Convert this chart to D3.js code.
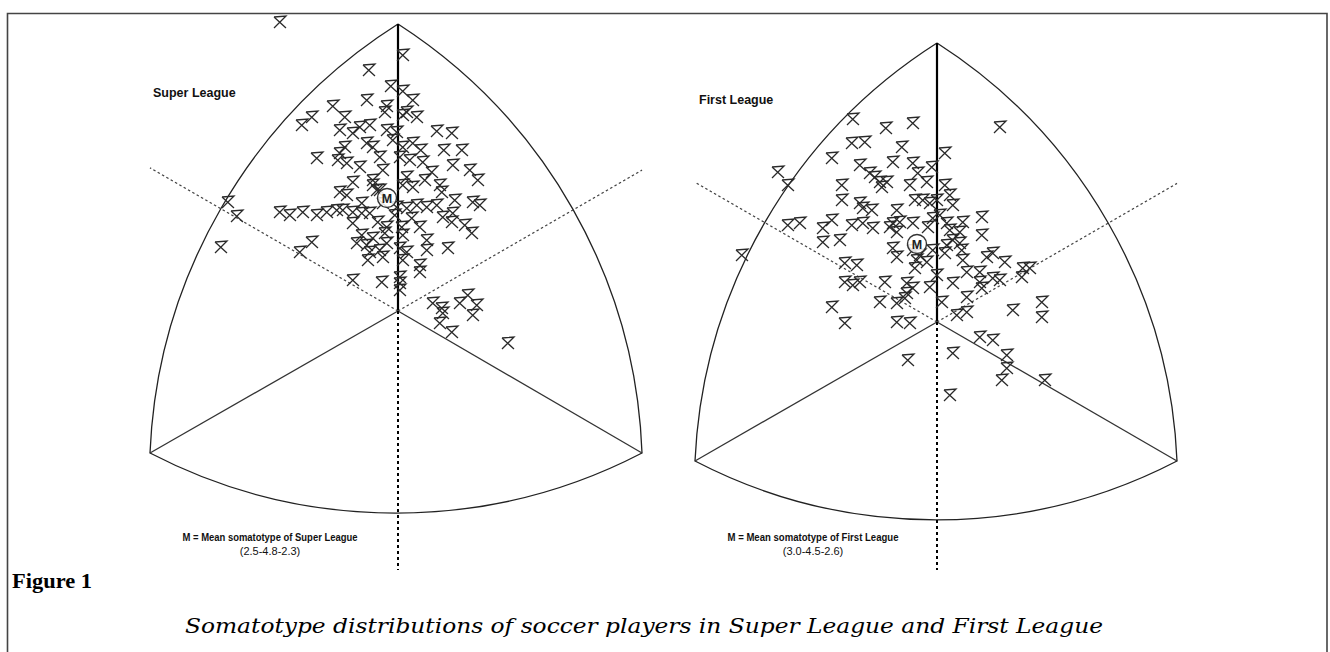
<!DOCTYPE html>
<html><head><meta charset="utf-8">
<script src="https://cdn.jsdelivr.net/npm/d3@7"></script>
<style>body{margin:0;background:#fff} svg{display:block}</style>
</head><body>
<script>
const panelTitles = ["Super League", "First League"];
const meanNotes = ["M = Mean somatotype of Super League", "M = Mean somatotype of First League"];
const meanLabels = ["(2.5-4.8-2.3)", "(3.0-4.5-2.6)"];
const meanPoints = [[-0.55, 5.65], [-1.0, 3.9]];
// frame vertices (top, bottom-left, bottom-right) in chart units
const superFrame = [[0, 14.35], [-12.4, -7.1], [12.2, -7.1]];
const firstFrame = [[0, 13.95], [-12.1, -6.95], [12.0, -6.95]];

const superLeague = [[-5.9,14.45],[0.25,12.8],[-1.45,12.05],[-0.35,11.25],[0.25,11.0],[-1.55,10.55],[-3.25,10.25],[-2.65,9.7],[-4.3,9.7],[-4.8,9.3],[-0.55,10.25],[-0.65,9.95],[0.45,9.95],[0.75,10.55],[0.25,9.8],[0.95,9.7],[-4.05,7.65],[-2.9,9.05],[-2.65,8.2],[-2.9,7.9],[-3.0,7.55],[-2.25,8.9],[-1.9,9.2],[-1.4,9.3],[-1.55,8.4],[-1.25,8.2],[-2.55,7.4],[-1.9,7.2],[-0.9,7.7],[-0.55,9.05],[-0.05,8.95],[-0.25,8.55],[0.25,8.2],[0.75,8.4],[0.1,7.7],[0.6,7.55],[-0.75,7.05],[-1.25,6.55],[-2.25,6.45],[-2.9,5.95],[-0.9,6.05],[0.45,6.7],[0.75,6.2],[1.95,9.0],[2.7,8.9],[1.15,8.05],[2.3,8.05],[3.2,8.05],[2.75,7.3],[3.6,7.05],[4.0,6.55],[1.25,7.45],[1.7,6.95],[-2.55,5.8],[-1.25,6.3],[-1.05,6.05],[0.25,6.3],[2.1,6.3],[2.2,5.95],[2.85,5.55],[3.75,5.45],[4.1,5.3],[-8.5,5.45],[-8.05,4.75],[-8.85,3.2],[-5.9,4.95],[-5.4,4.8],[-4.75,4.95],[-4.05,4.8],[-3.55,4.95],[-3.05,5.05],[-2.75,5.05],[-2.25,4.95],[-1.8,4.9],[-1.4,4.9],[-0.05,5.2],[0.45,5.15],[0.95,5.3],[1.45,5.2],[1.95,5.3],[2.25,4.7],[2.75,4.9],[2.7,4.45],[3.35,4.3],[3.7,3.9],[-2.25,4.4],[-1.0,4.45],[-0.55,4.2],[-1.8,3.8],[-1.25,3.65],[-0.65,3.9],[0.2,4.2],[0.25,3.8],[1.1,4.2],[1.45,3.55],[1.45,3.05],[2.5,3.15],[-2.05,3.4],[-1.55,3.3],[-1.4,2.95],[-0.9,3.05],[-0.55,3.4],[0.1,3.15],[0.45,2.95],[0.25,2.55],[-1.5,2.55],[-0.75,2.7],[1.1,2.3],[1.1,1.95],[-4.3,3.45],[-4.9,2.95],[-2.25,1.55],[-0.8,1.45],[0.1,1.7],[0.1,1.4],[0.1,1.05],[1.75,0.4],[2.2,0.15],[2.25,-0.1],[3.1,0.4],[3.5,0.8],[3.95,0.3],[3.75,-0.2],[2.1,-0.6],[2.7,-1.05],[5.5,-1.6],[-1.8,5.4],[-0.75,5.4],[1.35,6.55],[-0.15,4.8],[0.7,4.65]];

const firstLeague = [[-4.2,10.15],[-2.55,9.7],[-1.2,9.95],[-4.25,8.95],[-3.6,9.0],[-1.75,8.75],[0.4,8.45],[3.15,9.75],[-5.25,8.2],[-2.2,8.0],[-1.2,7.95],[-3.85,7.85],[-3.35,7.45],[-3.1,7.25],[-2.85,7.0],[-2.5,7.0],[-2.75,6.75],[-0.95,7.45],[-0.5,7.0],[-0.25,7.75],[-1.35,6.85],[-4.75,6.85],[-7.95,7.5],[-7.45,6.85],[-9.75,3.35],[-4.75,6.1],[-3.85,5.95],[-3.7,5.7],[-3.25,5.6],[-1.1,6.1],[-0.7,6.1],[-0.35,5.95],[-0.2,5.2],[0.15,5.35],[0.8,5.85],[-2.0,5.6],[-1.85,5.0],[-2.2,4.95],[-2.35,4.75],[-1.2,4.95],[-0.45,4.75],[0.5,4.95],[1.15,4.5],[1.3,5.0],[2.25,5.25],[2.25,4.35],[-5.25,5.1],[-5.7,4.7],[-5.7,4.0],[-4.85,4.1],[-7.45,4.85],[-6.85,4.95],[-4.25,4.85],[-3.7,4.95],[-3.2,4.7],[-2.0,4.5],[-2.2,3.7],[-2.0,3.25],[-1.2,3.6],[-0.85,3.35],[-0.2,3.6],[0.5,3.85],[0.8,4.1],[1.15,3.95],[1.25,3.6],[0.4,3.45],[1.3,3.1],[1.5,2.5],[2.5,3.25],[2.8,3.45],[3.4,3.0],[2.15,2.5],[2.25,1.7],[2.15,2.0],[2.8,2.2],[3.15,2.1],[4.3,2.7],[4.65,2.7],[4.25,2.25],[-4.6,2.95],[-4.0,2.85],[-4.6,2.0],[-4.2,1.85],[-3.85,2.0],[-2.6,2.0],[-1.5,1.95],[-1.2,1.7],[-1.5,1.45],[-0.35,1.75],[0.0,2.35],[0.8,1.95],[0.25,1.0],[1.5,1.25],[1.5,0.5],[1.0,0.35],[-2.85,1.0],[-2.0,0.95],[-1.6,1.2],[-5.25,0.75],[-4.6,-0.05],[-2.0,0.0],[-1.35,-0.05],[3.8,0.6],[5.25,1.0],[5.25,0.25],[2.15,-0.75],[2.8,-0.9],[3.5,-1.65],[3.5,-2.3],[3.25,-2.9],[5.4,-2.9],[-1.45,-1.9],[0.8,-1.55],[0.65,-3.65],[0.0,6.1],[0.4,6.85],[0.65,6.35],[-1.0,3.1],[-0.5,3.0],[0.65,4.6],[-1.1,2.7]];

const W = 1330, H = 652;
const svg = d3.select("body").append("svg").attr("width", W).attr("height", H);

// page frame
svg.append("path").attr("d", `M7.5,${H} L7.5,13.5 L1327,13.5 L1327,${H}`)
  .attr("fill", "none").attr("stroke", "#444").attr("stroke-width", 1.6);

const panels = [
  {title: panelTitles[0], data: superLeague, frame: superFrame, mean: meanPoints[0], note: meanNotes[0], mlabel: meanLabels[0],
   cx: 398, cy: 311, titlePos: [153, 97], notePos: [270, 541], noteLen: 175, axisEnd: -12.95},
  {title: panelTitles[1], data: firstLeague, frame: firstFrame, mean: meanPoints[1], note: meanNotes[1], mlabel: meanLabels[1],
   cx: 937, cy: 322, titlePos: [699, 104], notePos: [813, 541], noteLen: 171, axisEnd: -12.4}
];

const markerPath = "M-6,-5 L6,-6 L-6,6 M-6,-5 L6,6";
const tan30 = Math.tan(Math.PI / 6);

panels.forEach(p => {
  const x = d3.scaleLinear().domain([-10, 10]).range([p.cx - 200, p.cx + 200]);
  const y = d3.scaleLinear().domain([-10, 10]).range([p.cy + 200, p.cy - 200]);
  const g = svg.append("g");
  const [T, L, R] = p.frame.map(d => [x(d[0]), y(d[1])]);
  const dist = (a, b) => Math.hypot(a[0] - b[0], a[1] - b[1]);
  const rad = dist(L, R) * 1.085;
  g.append("path")
    .attr("d", `M${T} A${rad},${rad} 0 0 0 ${L} A${rad},${rad} 0 0 0 ${R} A${rad},${rad} 0 0 0 ${T}`)
    .attr("fill", "none").attr("stroke", "#222").attr("stroke-width", 1.3);
  const C = [x(0), y(0)];
  g.append("line").attr("x1", C[0]).attr("y1", C[1]).attr("x2", T[0]).attr("y2", T[1])
    .attr("stroke", "#000").attr("stroke-width", 2.2);
  [L, R].forEach(v => g.append("line").attr("x1", C[0]).attr("y1", C[1]).attr("x2", v[0]).attr("y2", v[1])
    .attr("stroke", "#333").attr("stroke-width", 1.3));
  [p.frame[1][0], p.frame[2][0]].forEach(vx => {
    g.append("line").attr("x1", C[0]).attr("y1", C[1])
      .attr("x2", x(vx)).attr("y2", y(Math.abs(vx) * tan30))
      .attr("stroke", "#444").attr("stroke-width", 1.4).attr("stroke-dasharray", "2.5,2.5");
  });
  g.append("line").attr("x1", C[0]).attr("y1", C[1]).attr("x2", C[0]).attr("y2", y(p.axisEnd))
    .attr("stroke", "#000").attr("stroke-width", 2).attr("stroke-dasharray", "3,3");

  g.append("g").selectAll("path").data(p.data).join("path")
    .attr("transform", d => `translate(${x(d[0])},${y(d[1])})`)
    .attr("d", markerPath)
    .attr("fill", "none").attr("stroke", "#2a2a2a").attr("stroke-width", 1.3)
    .attr("stroke-linejoin", "miter");

  const mx = x(p.mean[0]), my = y(p.mean[1]);
  g.append("circle").attr("cx", mx).attr("cy", my).attr("r", 9.5)
    .attr("fill", "#fff").attr("fill-opacity", 0.85).attr("stroke", "#333").attr("stroke-width", 1.4);
  g.append("text").attr("x", mx).attr("y", my + 4.5).attr("text-anchor", "middle")
    .attr("font-family", "Liberation Sans, Arial, sans-serif").attr("font-weight", "bold")
    .attr("font-size", 12.5).attr("fill", "#222").text("M");

  g.append("text").attr("x", p.titlePos[0]).attr("y", p.titlePos[1])
    .attr("font-family", "Liberation Sans, Arial, sans-serif").attr("font-weight", "bold")
    .attr("font-size", 12.5).attr("fill", "#111").text(p.title);
  g.append("text").attr("x", p.notePos[0]).attr("y", p.notePos[1]).attr("text-anchor", "middle")
    .attr("font-family", "Liberation Sans, Arial, sans-serif").attr("font-weight", "bold")
    .attr("font-size", 11.5).attr("fill", "#111")
    .attr("textLength", p.noteLen).attr("lengthAdjust", "spacingAndGlyphs").text(p.note);
  g.append("text").attr("x", p.notePos[0]).attr("y", p.notePos[1] + 14).attr("text-anchor", "middle")
    .attr("font-family", "Liberation Sans, Arial, sans-serif")
    .attr("font-size", 11).attr("fill", "#111").text(p.mlabel);
});

svg.append("text").attr("x", 12).attr("y", 588)
  .attr("font-family", "Liberation Serif, 'DejaVu Serif', serif").attr("font-weight", "bold")
  .attr("font-size", 21).attr("fill", "#000")
  .attr("textLength", 80).attr("lengthAdjust", "spacingAndGlyphs").text("Figure 1");
svg.append("text").attr("x", 185).attr("y", 633)
  .attr("font-family", "'DejaVu Serif', serif").attr("font-style", "italic")
  .attr("font-size", 20).attr("fill", "#000")
  .attr("textLength", 918).attr("lengthAdjust", "spacingAndGlyphs")
  .text("Somatotype distributions of soccer players in Super League and First League");
</script>
</body></html>
